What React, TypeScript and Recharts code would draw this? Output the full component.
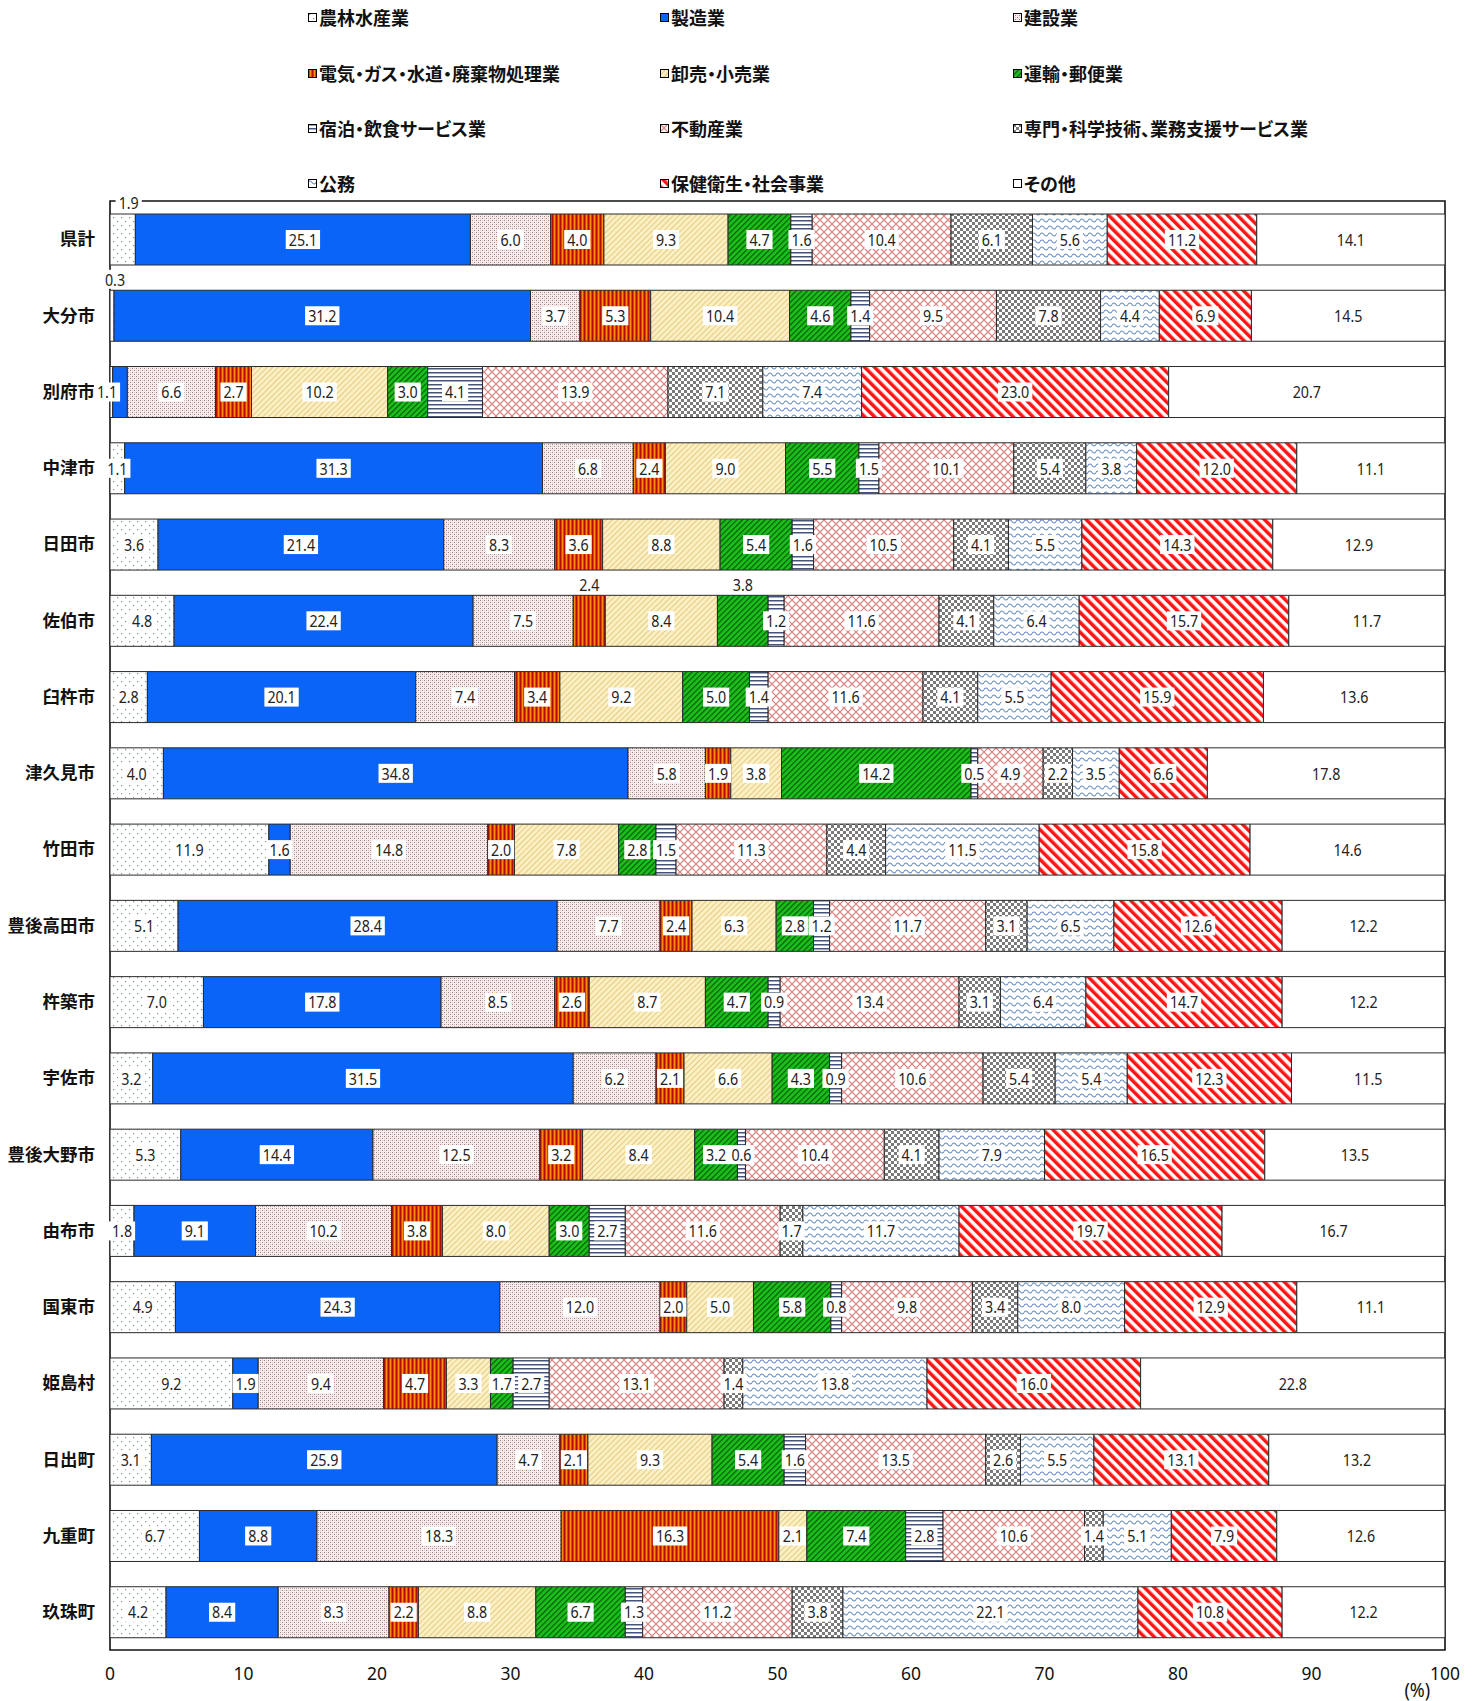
import React from 'react';
import { BarChart, Bar, XAxis, YAxis, LabelList, ReferenceArea } from 'recharts';

const cities = ['県計', '大分市', '別府市', '中津市', '日田市', '佐伯市', '臼杵市', '津久見市', '竹田市', '豊後高田市', '杵築市', '宇佐市', '豊後大野市', '由布市', '国東市', '姫島村', '日出町', '九重町', '玖珠町'];

const seriesNames = ['農林水産業', '製造業', '建設業', '電気・ガス・水道・廃棄物処理業', '卸売・小売業', '運輸・郵便業', '宿泊・飲食サービス業', '不動産業', '専門・科学技術、業務支援サービス業', '公務', '保健衛生・社会事業', 'その他'];

const agriculture = [1.9, 0.3, 0.2, 1.1, 3.6, 4.8, 2.8, 4.0, 11.9, 5.1, 7.0, 3.2, 5.3, 1.8, 4.9, 9.2, 3.1, 6.7, 4.2];
const manufacturing = [25.1, 31.2, 1.1, 31.3, 21.4, 22.4, 20.1, 34.8, 1.6, 28.4, 17.8, 31.5, 14.4, 9.1, 24.3, 1.9, 25.9, 8.8, 8.4];
const construction = [6.0, 3.7, 6.6, 6.8, 8.3, 7.5, 7.4, 5.8, 14.8, 7.7, 8.5, 6.2, 12.5, 10.2, 12.0, 9.4, 4.7, 18.3, 8.3];
const utilities = [4.0, 5.3, 2.7, 2.4, 3.6, 2.4, 3.4, 1.9, 2.0, 2.4, 2.6, 2.1, 3.2, 3.8, 2.0, 4.7, 2.1, 16.3, 2.2];
const trade = [9.3, 10.4, 10.2, 9.0, 8.8, 8.4, 9.2, 3.8, 7.8, 6.3, 8.7, 6.6, 8.4, 8.0, 5.0, 3.3, 9.3, 2.1, 8.8];
const transport = [4.7, 4.6, 3.0, 5.5, 5.4, 3.8, 5.0, 14.2, 2.8, 2.8, 4.7, 4.3, 3.2, 3.0, 5.8, 1.7, 5.4, 7.4, 6.7];
const hospitality = [1.6, 1.4, 4.1, 1.5, 1.6, 1.2, 1.4, 0.5, 1.5, 1.2, 0.9, 0.9, 0.6, 2.7, 0.8, 2.7, 1.6, 2.8, 1.3];
const realEstate = [10.4, 9.5, 13.9, 10.1, 10.5, 11.6, 11.6, 4.9, 11.3, 11.7, 13.4, 10.6, 10.4, 11.6, 9.8, 13.1, 13.5, 10.6, 11.2];
const professional = [6.1, 7.8, 7.1, 5.4, 4.1, 4.1, 4.1, 2.2, 4.4, 3.1, 3.1, 5.4, 4.1, 1.7, 3.4, 1.4, 2.6, 1.4, 3.8];
const publicService = [5.6, 4.4, 7.4, 3.8, 5.5, 6.4, 5.5, 3.5, 11.5, 6.5, 6.4, 5.4, 7.9, 11.7, 8.0, 13.8, 5.5, 5.1, 22.1];
const health = [11.2, 6.9, 23.0, 12.0, 14.3, 15.7, 15.9, 6.6, 15.8, 12.6, 14.7, 12.3, 16.5, 19.7, 12.9, 16.0, 13.1, 7.9, 10.8];
const others = [14.1, 14.5, 20.7, 11.1, 12.9, 11.7, 13.6, 17.8, 14.6, 12.2, 12.2, 11.5, 13.5, 16.7, 11.1, 22.8, 13.2, 12.6, 12.2];

const xTicks = [0, 10, 20, 30, 40, 50, 60, 70, 80, 90, 100];

const seriesValues = [agriculture, manufacturing, construction, utilities, trade, transport, hospitality, realEstate, professional, publicService, health, others];
const fills = ['url(#p0)', '#0a64f8', 'url(#p2)', 'url(#p3)', 'url(#p4)', 'url(#p5)', 'url(#p6)', 'url(#p7)', 'url(#p8)', 'url(#p9)', 'url(#p10)', '#ffffff'];

const data = cities.map((c, i) => {
  const row: any = { name: c };
  seriesNames.forEach((_, j) => { row['s' + j] = seriesValues[j][i]; });
  return row;
});

// special label placement (style only)
const LABEL_PLACEMENT: Record<string, { mode: string; dx?: number }> = {
  '県計|農林水産業': { mode: 'above', dx: 6 },
  '大分市|農林水産業': { mode: 'above', dx: 3 },
  '別府市|農林水産業': { mode: 'hide' },
  '別府市|製造業': { mode: 'left', dx: -13 },
  '佐伯市|電気・ガス・水道・廃棄物処理業': { mode: 'above' },
  '佐伯市|運輸・郵便業': { mode: 'above' },
};

const FONT = '"Noto Sans", "Noto Sans CJK JP", sans-serif';
const JFONT = '"Noto Sans CJK JP", "Noto Sans", sans-serif';
const LFS = 15.5;
const SX = 0.92;

const makeLabel = (sIdx: number) => (props: any) => {
  const vb = props.viewBox && props.viewBox.width !== undefined ? props.viewBox : props;
  const x = Number(vb.x), y = Number(vb.y), w = Number(vb.width), h = Number(vb.height);
  const index = props.index;
  const value = props.value;
  if (value === undefined || value === null || isNaN(x)) return null;
  const key = cities[index] + '|' + seriesNames[sIdx];
  const pl = LABEL_PLACEMENT[key];
  if (pl && pl.mode === 'hide') return null;
  let cx = x + w / 2;
  let cy = y + h / 2;
  if (pl && pl.mode === 'above') { cy = y - 11; cx += pl.dx || 0; }
  if (pl && pl.mode === 'left') { cx += pl.dx || 0; }
  const txt = Number(value).toFixed(1);
  const tw = (txt.length - 1) * 0.572 * LFS * SX + 0.27 * LFS * SX;
  const bw = tw + 6;
  const bh = 19;
  return (
    <g key={'lb' + sIdx + '-' + index}>
      <rect x={cx - bw / 2} y={cy - bh / 2} width={bw} height={bh} fill="#fff" />
      <text
        transform={`translate(${cx},${cy}) scale(${SX},1)`}
        textAnchor="middle"
        dominantBaseline="central"
        fontSize={LFS}
        fontFamily={FONT}
        fill="#222"
      >
        {txt}
      </text>
    </g>
  );
};

const XTick = (props: any) => {
  const { x, y, payload } = props;
  return (
    <text transform={`translate(${x},${y}) scale(0.92,1)`} textAnchor="middle" dominantBaseline="central" fontSize={19} fontFamily={FONT} fill="#111">
      {payload.value}
    </text>
  );
};

const Patterns = () => (
  <svg width={0} height={0} style={{ position: 'absolute' }}>
    <defs>
      <pattern id="p0" width="8" height="8" patternUnits="userSpaceOnUse">
        <rect width="8" height="8" fill="#ffffff" />
        <rect x="1" y="1" width="1.2" height="1.2" fill="#7d9c7d" />
        <rect x="5" y="5" width="1.2" height="1.2" fill="#7d9c7d" />
      </pattern>
      <pattern id="p2" width="4" height="4" patternUnits="userSpaceOnUse">
        <rect width="4" height="4" fill="#f7efef" />
        <rect x="0" y="0" width="1" height="1" fill="#a87c7c" />
        <rect x="2" y="2" width="1" height="1" fill="#a87c7c" />
        <rect x="2" y="0" width="1" height="1" fill="#dcc4c4" />
        <rect x="0" y="2" width="1" height="1" fill="#dcc4c4" />
      </pattern>
      <pattern id="p3" width="4" height="4" patternUnits="userSpaceOnUse">
        <rect width="4" height="4" fill="#f23a00" />
        <rect x="0" y="0" width="1" height="4" fill="#b00c00" />
        <rect x="2" y="0" width="1" height="4" fill="#ff8a10" />
      </pattern>
      <pattern id="p4" width="4" height="4" patternUnits="userSpaceOnUse" patternTransform="rotate(45)">
        <rect width="4" height="4" fill="#fcefc2" />
        <rect x="0" y="0" width="1" height="4" fill="#e3cc86" />
      </pattern>
      <pattern id="p5" width="4" height="4" patternUnits="userSpaceOnUse" patternTransform="rotate(45)">
        <rect width="4" height="4" fill="#1cbf1c" />
        <rect x="0" y="0" width="1.2" height="4" fill="#055c05" />
      </pattern>
      <pattern id="p6" width="4" height="4" patternUnits="userSpaceOnUse">
        <rect width="4" height="4" fill="#ffffff" />
        <rect x="0" y="0" width="4" height="1.5" fill="#44537e" />
      </pattern>
      <pattern id="p7" width="8" height="8" patternUnits="userSpaceOnUse">
        <rect width="8" height="8" fill="#ffffff" />
        <path d="M0 0 L8 8 M8 0 L0 8" stroke="#d97a7a" strokeWidth="1.1" fill="none" />
        <circle cx="4" cy="4" r="1.2" fill="none" stroke="#e4a0a0" strokeWidth="0.6" />
      </pattern>
      <pattern id="p8" width="6" height="6" patternUnits="userSpaceOnUse">
        <rect width="6" height="6" fill="#ffffff" />
        <rect x="0" y="0" width="3" height="3" fill="#7a7a7a" />
        <rect x="3" y="3" width="3" height="3" fill="#7a7a7a" />
      </pattern>
      <pattern id="p9" width="8" height="7" patternUnits="userSpaceOnUse">
        <rect width="8" height="7" fill="#ffffff" />
        <path d="M0 3.5 Q2 0.5 4 3.5 T8 3.5" stroke="#5f88c2" strokeWidth="1.1" fill="none" />
      </pattern>
      <pattern id="p10" width="7" height="7" patternUnits="userSpaceOnUse" patternTransform="rotate(-45)">
        <rect width="7" height="7" fill="#ffffff" />
        <rect x="0" y="0" width="3.5" height="7" fill="#ff1414" />
      </pattern>
    </defs>
  </svg>
);

const legendCols = [313, 665, 1018];
const legendRows = [17, 73, 128, 183];

const LegendBlock = () => (
  <>
    {seriesNames.map((s, i) => {
      const col = i % 3;
      const row = Math.floor(i / 3);
      return (
        <div key={s} style={{ position: 'absolute', left: legendCols[col] - 5, top: legendRows[row] - 12, height: 24, display: 'flex', alignItems: 'center', whiteSpace: 'nowrap', fontFamily: JFONT, fontWeight: 700, fontSize: 18, color: '#111', fontFeatureSettings: '"palt"' }}>
          <svg width={9} height={9} style={{ marginRight: 2 }}>
            <rect x={0.5} y={0.5} width={8} height={8} fill={fills[i]} stroke="#000" strokeWidth={1} />
          </svg>
          {s}
        </div>
      );
    })}
  </>
);

export default function App() {
  return (
    <div style={{ position: 'absolute', left: 0, top: 0, width: 1477, height: 1701, background: '#fff', fontFamily: JFONT }}>
      <Patterns />
      <LegendBlock />
      <BarChart
        width={1477}
        height={1701}
        data={data}
        layout="vertical"
        margin={{ top: 201, right: 32, left: 10, bottom: 21 }}
        barSize={51}
      >
        <XAxis
          type="number"
          domain={[0, 100]}
          ticks={xTicks}
          axisLine={false}
          tickLine={false}
          tickSize={0}
          tickMargin={22}
          height={30}
          tick={<XTick />}
          interval={0}
        />
        <YAxis
          type="category"
          dataKey="name"
          width={100}
          axisLine={false}
          tickLine={false}
          tickSize={0}
          tickMargin={15}
          interval={0}
          tick={{ fontSize: 17.5, fontWeight: 700, fill: '#111', fontFamily: JFONT }}
        />
        {seriesNames.map((s, j) => (
          <Bar
            key={s}
            dataKey={'s' + j}
            name={s}
            stackId="a"
            fill={fills[j]}
            stroke="#2a2a2a"
            strokeWidth={1}
            isAnimationActive={false}
          >
            <LabelList dataKey={'s' + j} content={makeLabel(j)} />
          </Bar>
        ))}
        <ReferenceArea x1={0} x2={100} fill="none" fillOpacity={0} stroke="#111" strokeWidth={1.6} ifOverflow="visible" />
      </BarChart>
      <div style={{ position: 'absolute', left: 1403, top: 1676, fontSize: 20, fontFamily: FONT, color: '#111', transform: 'scaleX(0.9)' }}>(%)</div>
    </div>
  );
}
